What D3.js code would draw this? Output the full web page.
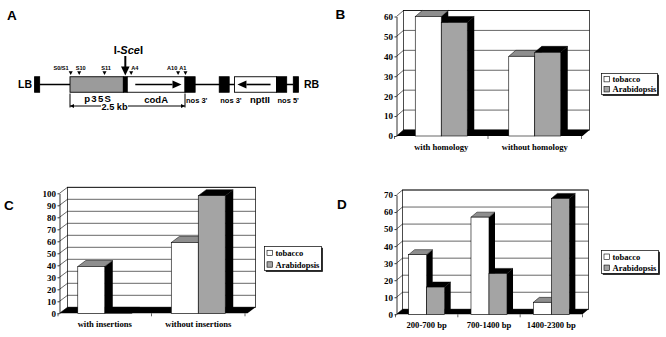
<!DOCTYPE html>
<html>
<head>
<meta charset="utf-8">
<script src="https://cdn.jsdelivr.net/npm/d3@7"></script>
<style>
  body { margin: 0; background: #fff; }
  svg { display: block; }
  .sans { font-family: "Liberation Sans", Arial, sans-serif; font-weight: bold; }
  .serif { font-family: "Liberation Serif", "Times New Roman", serif; font-weight: bold; }
</style>
</head>
<body>
<svg id="fig" width="666" height="337"></svg>
<script>
// ---- data ----
const seriesNames = ["tobacco", "Arabidopsis"];

const bCategories = ["with homology", "without homology"];
const bTobacco = [60, 40];
const bArabidopsis = [57, 42];
const bTicks = [0, 10, 20, 30, 40, 50, 60];

const cCategories = ["with insertions", "without insertions"];
const cTobacco = [39, 59];
const cArabidopsis = [0, 98];
const cTicks = [0, 10, 20, 30, 40, 50, 60, 70, 80, 90, 100];

const dCategories = ["200-700 bp", "700-1400 bp", "1400-2300 bp"];
const dTobacco = [35, 57, 7];
const dArabidopsis = [16, 24, 68];
const dTicks = [0, 10, 20, 30, 40, 50, 60, 70];

// construct map (positions in kb, 0 = start of p35S)
const mapElements = [
  { name: "LB", start: -0.77, end: -0.66, kind: "border" },
  { name: "p35S", start: 0, end: 1.16, kind: "promoter" },
  { name: "", start: 1.16, end: 1.245, kind: "site" },
  { name: "codA", start: 1.245, end: 2.5, kind: "gene", dir: 1 },
  { name: "nos 3'", start: 2.5, end: 2.72, kind: "term" },
  { name: "nos 3'", start: 3.245, end: 3.46, kind: "term" },
  { name: "nptII", start: 3.575, end: 4.49, kind: "gene", dir: -1 },
  { name: "nos 5'", start: 4.49, end: 4.71, kind: "term" },
  { name: "RB", start: 4.855, end: 4.965, kind: "border" }
];
const primerNames = ["S0/S1", "S10", "S11", "A4", "A10", "A1"];
const primerKb = [0.015, 0.2, 0.75, 1.33, 2.35, 2.51];
const primerAnchor = ["end", "middle", "middle", "start", "end", "end"];
const fragmentKb = [0, 2.5];
const fragmentLabel = "2.5 kb";

const svg = d3.select("#fig");

// panel letters
const letters = [["A", 7, 19.5], ["B", 335.5, 19], ["C", 4, 209.5], ["D", 337, 209]];
svg.selectAll("text.letter").data(letters).join("text")
  .attr("class", "sans letter")
  .attr("x", d => d[1]).attr("y", d => d[2])
  .attr("font-size", 13.5)
  .text(d => d[0]);

// ---- panel A ----
const kb = d3.scaleLinear().domain([0, 2.5]).range([70, 185]);
const mapY = 84.5, boxH = 15.5;
const A = svg.append("g");

const borders = mapElements.filter(e => e.kind === "border");
A.append("line")
  .attr("x1", kb(borders[0].end)).attr("x2", kb(borders[1].start))
  .attr("y1", mapY).attr("y2", mapY)
  .attr("stroke", "#000").attr("stroke-width", 1.3);

mapElements.forEach(e => {
  const x0 = kb(e.start), x1 = kb(e.end);
  const fill = e.kind === "promoter" ? "#9b9b9b" : (e.kind === "gene" ? "#fff" : "#000");
  A.append("rect")
    .attr("x", x0).attr("y", mapY - boxH / 2)
    .attr("width", x1 - x0).attr("height", boxH)
    .attr("fill", fill).attr("stroke", "#000").attr("stroke-width", 0.9);
  if (e.kind === "gene") {
    const tail = e.dir > 0 ? x0 + 8 : x1 - 6;
    const tip = e.dir > 0 ? x1 - 3.5 : x0 + 3;
    const base = tip - e.dir * 9;
    A.append("line").attr("x1", tail).attr("x2", base).attr("y1", mapY).attr("y2", mapY)
      .attr("stroke", "#000").attr("stroke-width", 1.6);
    A.append("path").attr("d", `M${tip},${mapY}L${base},${mapY - 4}L${base},${mapY + 4}Z`).attr("fill", "#000");
  }
  if (e.kind === "border") {
    A.append("text").attr("class", "sans")
      .attr("x", e.name === "LB" ? x0 - 2.5 : x1 + 5.5).attr("y", mapY + 3.8)
      .attr("text-anchor", e.name === "LB" ? "end" : "start")
      .attr("font-size", 10.5).text(e.name);
  } else if (e.kind === "term") {
    A.append("text").attr("class", "sans")
      .attr("x", x0 + 1).attr("y", mapY + 18.5)
      .attr("font-size", 7.5).text(e.name);
  } else if (e.name) {
    A.append("text").attr("class", "sans")
      .attr("x", (x0 + x1) / 2 + (e.name === "p35S" ? 1.5 : (e.name === "codA" ? 0 : 4.5)))
      .attr("y", e.name === "p35S" ? mapY + 17.6 : mapY + 18.8)
      .attr("text-anchor", "middle")
      .attr("font-size", e.name === "p35S" ? 9.6 : 9.5)
      .attr("letter-spacing", e.name === "p35S" ? 1.2 : 0)
      .text(e.name);
  }
});

// I-SceI site arrow
const site = mapElements.find(e => e.kind === "site");
const sx = (kb(site.start) + kb(site.end)) / 2;
A.append("line").attr("x1", sx).attr("x2", sx).attr("y1", 56).attr("y2", 68)
  .attr("stroke", "#000").attr("stroke-width", 2);
A.append("path").attr("d", `M${sx},75.5L${sx - 4.3},66.5L${sx + 4.3},66.5Z`).attr("fill", "#000");
const isce = A.append("text").attr("class", "sans").attr("x", sx + 3).attr("y", 53.5)
  .attr("text-anchor", "middle").attr("font-size", 11);
isce.append("tspan").text("I-");
isce.append("tspan").attr("font-style", "italic").text("Sce");
isce.append("tspan").text("I");

// primer sites
primerNames.forEach((p, i) => {
  const px = kb(primerKb[i]);
  let shift = 0;
  if (primerAnchor[i] === "middle") shift = 1.5;
  if (primerAnchor[i] === "end") shift = primerKb[i] < 1 ? -2 : (primerKb[i] < 2.5 ? -0.8 : 1);
  A.append("path").attr("d", `M${px - 2},71.3L${px + 2},71.3L${px},75Z`).attr("fill", "#000");
  A.append("text").attr("class", "sans")
    .attr("x", px + shift)
    .attr("y", 70.3)
    .attr("text-anchor", primerAnchor[i])
    .attr("font-size", 5.6).text(p);
});

// 2.5 kb dimension
const fx0 = kb(fragmentKb[0]), fx1 = kb(fragmentKb[1]), fy = 106;
const ftx = (fx0 + fx1) / 2 - 13;
A.append("path")
  .attr("d", `M${fx0},93.5V107.5M${fx1},93.5V107.5M${fx0},${fy}H${ftx - 13.5}M${ftx + 13.5},${fy}H${fx1}`)
  .attr("stroke", "#000").attr("stroke-width", 1).attr("fill", "none");
A.append("path").attr("d", `M${fx0},${fy}l4,-2v4Z M${fx1},${fy}l-4,-2v4Z`).attr("fill", "#000");
A.append("text").attr("class", "sans").attr("x", ftx).attr("y", 109.8)
  .attr("text-anchor", "middle").attr("font-size", 9.2).text(fragmentLabel);

// ---- 3D bar panels ----
function drawPanel(cfg, cats, tob, ara, ticks) {
  const g = svg.append("g");
  const x = d3.scaleBand().domain(cats).range(cfg.band);
  const y = d3.scaleLinear().domain([0, d3.max(ticks)]).range([cfg.y0, cfg.yTop]);
  const [dx, dy] = cfg.depth;
  const [f0, f1] = cfg.floor;
  const gw = x.bandwidth() * cfg.group;
  const off = (x.bandwidth() - gw) / 2;
  const xs = d3.scaleBand().domain(seriesNames).range([0, gw]);

  // back wall
  g.append("rect")
    .attr("x", f0 + dx).attr("y", cfg.yTop + dy)
    .attr("width", f1 - f0).attr("height", cfg.y0 - cfg.yTop)
    .attr("fill", "#fff").attr("stroke", "#000").attr("stroke-width", 0.7);

  // gridlines on side and back wall
  g.append("g").selectAll("path").data(ticks).join("path")
    .attr("d", t => `M${f0},${y(t)}L${f0 + dx},${y(t) + dy}H${f1 + dx}`)
    .attr("fill", "none").attr("stroke", "#000").attr("stroke-width", 0.6);

  // floor
  g.append("path")
    .attr("d", `M${f0},${cfg.y0}H${f1}L${f1 + dx},${cfg.y0 + dy}H${f0 + dx}Z`)
    .attr("fill", "#000");

  // value axis
  const ax = g.append("g").attr("transform", `translate(${f0},0)`)
    .call(d3.axisLeft(y).tickValues(ticks).tickSize(2).tickSizeOuter(0).tickPadding(1.5));
  ax.attr("font-family", null).attr("font-size", null).attr("class", "serif");
  ax.selectAll("text").attr("font-size", 9).attr("fill", "#000");
  ax.selectAll("line, path").attr("stroke", "#000").attr("stroke-width", 0.8);

  // category boundaries
  g.append("g").selectAll("line").data(d3.range(cats.length + 1)).join("line")
    .attr("x1", i => cfg.band[0] + i * x.step()).attr("x2", i => cfg.band[0] + i * x.step())
    .attr("y1", cfg.y0).attr("y2", cfg.y0 + 3)
    .attr("stroke", "#000").attr("stroke-width", 0.6);

  // bars
  const bars = [];
  cats.forEach((c, i) => [tob[i], ara[i]].forEach((v, j) => bars.push({ c, s: seriesNames[j], v, j })));
  g.append("g").selectAll("g").data(bars).join("g").each(function (d) {
    const bx = x(d.c) + off + xs(d.s), w = xs.bandwidth(), yt = y(d.v), yb = cfg.y0;
    const s = d3.select(this);
    s.append("path")
      .attr("d", `M${bx + w},${yt}L${bx + w + dx},${yt + dy}V${yb + dy}L${bx + w},${yb}Z`)
      .attr("fill", "#000");
    s.append("path")
      .attr("d", `M${bx},${yt}H${bx + w}L${bx + w + dx},${yt + dy}H${bx + dx}Z`)
      .attr("fill", d.j ? "#000" : "#8e8e8e").attr("stroke", "#000").attr("stroke-width", 0.5);
    s.append("rect")
      .attr("x", bx).attr("y", yt).attr("width", w).attr("height", yb - yt)
      .attr("fill", d.j ? "#a4a4a4" : "#fff").attr("stroke", "#000").attr("stroke-width", 0.6);
  });

  // category labels
  g.append("g").selectAll("text").data(cats).join("text")
    .attr("class", "serif")
    .attr("x", c => x(c) + x.bandwidth() / 2).attr("y", cfg.y0 + 14)
    .attr("text-anchor", "middle").attr("font-size", 8.6)
    .text(c => c);

  // legend
  const [lx, ly, lw, lh] = cfg.legend;
  const lg = g.append("g");
  lg.append("rect").attr("x", lx + 1.3).attr("y", ly + 1.3).attr("width", lw).attr("height", lh).attr("fill", "#000");
  lg.append("rect").attr("x", lx).attr("y", ly).attr("width", lw).attr("height", lh)
    .attr("fill", "#fff").attr("stroke", "#000").attr("stroke-width", 0.7);
  seriesNames.forEach((n, j) => {
    const cy = ly + lh * (j === 0 ? 0.27 : 0.75);
    lg.append("rect").attr("x", lx + 2.5).attr("y", cy - 2.7).attr("width", 5.4).attr("height", 5.4)
      .attr("fill", j ? "#a4a4a4" : "#fff").attr("stroke", "#000").attr("stroke-width", 0.6);
    lg.append("text").attr("class", "serif").attr("x", lx + 11).attr("y", cy + 3)
      .attr("font-size", 8.5).text(n);
  });
}

drawPanel({ band: [394.5, 581.5], floor: [396.5, 582.5], y0: 136, yTop: 16.5, depth: [7, -6], group: 0.556, legend: [601.5, 73.5, 56, 21] },
  bCategories, bTobacco, bArabidopsis, bTicks);
drawPanel({ band: [58, 245], floor: [59.5, 247.5], y0: 313.3, yTop: 193.3, depth: [8, -6], group: 0.577, legend: [264.5, 246.5, 57, 24] },
  cCategories, cTobacco, cArabidopsis, cTicks);
drawPanel({ band: [395.5, 582.5], floor: [396.5, 582.5], y0: 314.3, yTop: 195, depth: [6, -5], group: 0.578, legend: [601.5, 250.5, 57, 23] },
  dCategories, dTobacco, dArabidopsis, dTicks);
</script>
</body>
</html>
